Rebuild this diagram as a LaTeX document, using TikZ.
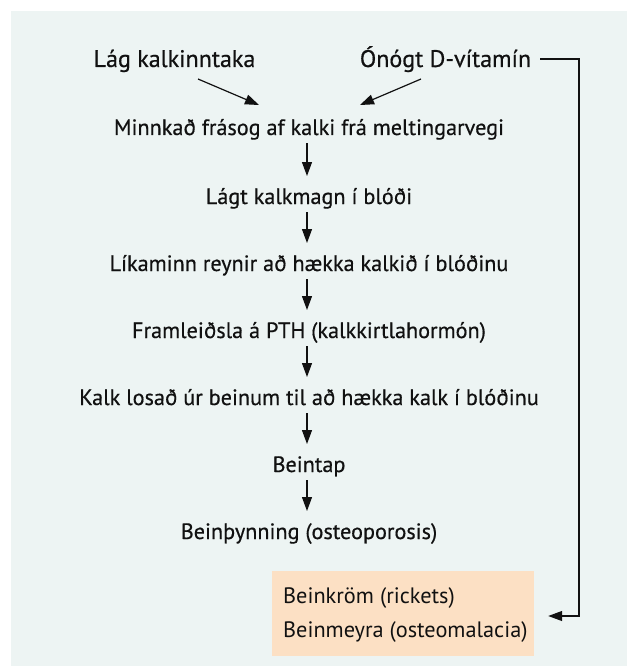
\documentclass[tikz,border=0pt]{standalone}
\usepackage{fontspec}
\setmainfont{PT Sans}
\newfontfamily\medfont[FakeBold=0.5]{PT Sans}
\usetikzlibrary{arrows.meta,calc}
\definecolor{panel}{HTML}{EDF4F3}
\definecolor{peach}{HTML}{FCE0C4}
\definecolor{ink}{HTML}{111111}
\begin{document}
\begin{tikzpicture}[x=1pt,y=-1pt,
  txt/.style={font=\medfont\fontsize{22.2}{26}\selectfont, text=ink, inner sep=0pt, anchor=base},
  toptxt/.style={txt, font=\medfont\fontsize{24}{28}\selectfont},
  boxtxt/.style={txt, font=\fontsize{22.3}{26}\selectfont, anchor=base west},
  arr/.style={draw=ink, line width=1.2pt, -{Triangle[length=14pt,width=10pt]}},
  conn/.style={draw=ink, line width=1.2pt, -{Triangle[length=14pt,width=10pt]}}]
\useasboundingbox (0,0) rectangle (627,666);
\fill[panel] (11,11) rectangle (627,666);
\node[toptxt] (low) at (174.5,67) {Lág kalkinntaka};
\node[toptxt] (vitd) at (445.5,67) {Ónógt D-vítamín};
\node[txt] (m1) at (309,135) {Minnkað frásog af kalki frá meltingarvegi};
\node[txt] (m2) at (309,204) {Lágt kalkmagn í blóði};
\node[txt] (m3) at (309,271) {Líkaminn reynir að hækka kalkið í blóðinu};
\node[txt] (m4) at (309,338) {Framleiðsla á PTH (kalkkirtlahormón)};
\node[txt] (m5) at (309,405) {Kalk losað úr beinum til að hækka kalk í blóðinu};
\node[txt] (m6) at (309,472) {Beintap};
\node[txt] (m7) at (309,539) {Beinþynning (osteoporosis)};
\node[fill=peach, inner sep=0pt, minimum width=262pt, minimum height=85pt] (box) at (403,613.5) {};
\node[boxtxt] (b1) at (283,603) {Beinkröm (rickets)};
\node[boxtxt] (b2) at (283,637) {Beinmeyra (osteomalacia)};
\draw[arr] ($(low.base)+(23.5,12)$) -- ($(m1.base)+(-50,-30)$);
\draw[arr] ($(vitd.base)+(-24.5,12)$) -- ($(m1.base)+(51,-30)$);
\foreach \a/\b in {m1/m2,m2/m3,m3/m4,m4/m5,m5/m6,m6/m7}{
  \draw[arr] ($(\a.base)+(-2,8)$) -- ($(\b.base)+(-2,-28)$);
}
\coordinate (corner) at (579,59);
\draw[conn] ([xshift=9pt,yshift=8pt]vitd.base east) -- (corner) |- ([xshift=14pt,yshift=-2.5pt]box.east);
\end{tikzpicture}
\end{document}
